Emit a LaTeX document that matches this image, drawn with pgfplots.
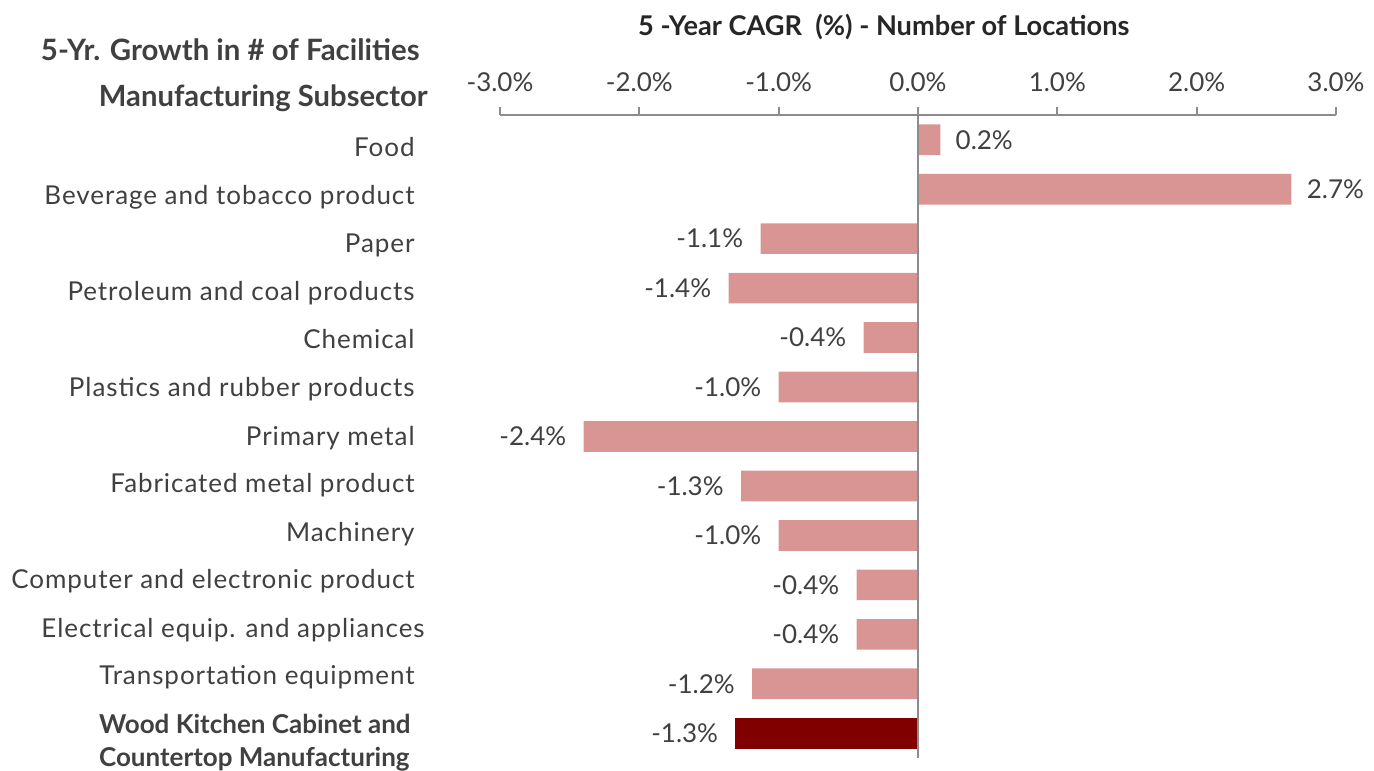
\documentclass[border=0pt]{standalone}
\usepackage{fontspec}
\setmainfont{Lato}
\newfontfamily\spaced[LetterSpace=3.6]{Lato}
\usepackage{pgfplots}
\pgfplotsset{compat=1.18}
\definecolor{barpink}{HTML}{D99594}
\definecolor{bardark}{HTML}{800000}
\definecolor{txt}{HTML}{404040}
\definecolor{ttl}{HTML}{262626}
\definecolor{axgray}{HTML}{8C8C8C}
\begin{document}
\begin{tikzpicture}
\begin{axis}[
  scale only axis, width=418pt, height=321.5pt,
  xmin=-3, xmax=3, ymin=-0.5, ymax=12.5,
  axis x line=top, axis y line=left,
  y axis line style={draw=none},
  x axis line style={draw=axgray, line width=1pt, -},
  xtick={-3,-2,-1,0,1,2,3},
  xticklabels={-3.0\%,-2.0\%,-1.0\%,0.0\%,1.0\%,2.0\%,3.0\%},
  tick align=outside,
  major tick length=4pt,
  xtick style={draw=axgray, line width=1pt},
  ytick style={draw=none},
  ytick={0.005,0.976,1.946,2.917,3.887,4.858,5.828,6.799,7.769,8.740,9.710,10.681,11.651},
  yticklabels={{\rmfamily\bfseries\begin{tabular}[t]{@{}l@{\hspace{2pt}}}Wood Kitchen Cabinet and\\[1.5pt]Countertop Manufacturing\end{tabular}},
    Transportation equipment, Electrical equip. and appliances\hspace*{-5pt}, Computer and electronic product,
    Machinery, Fabricated metal product, Primary metal, Plastics and rubber products, Chemical,
    Petroleum and coal products, Paper, Beverage and tobacco product, Food},
  xticklabel style={font=\fontsize{13}{15}\selectfont, text=txt, inner sep=0pt, anchor=south, yshift=7.5pt},
  yticklabel style={font=\spaced\fontsize{13}{15}\selectfont, text=txt, inner sep=0pt, anchor=base east, xshift=-38.5pt},
  clip=false,
]
\addplot[xbar, bar width=0.62, bar shift=0pt, fill=barpink, draw=none,
  nodes near coords, point meta=explicit symbolic,
  every node near coord/.append style={anchor=west, inner sep=0pt, xshift=7.5pt, font=\fontsize{13}{15}\selectfont, text=txt}]
  coordinates {(0.16,12) [0.2\%] (2.68,11) [2.7\%]};
\addplot[xbar, bar width=0.62, bar shift=0pt, fill=barpink, draw=none,
  nodes near coords, point meta=explicit symbolic,
  every node near coord/.append style={anchor=east, inner sep=0pt, xshift=-8.5pt, font=\fontsize{13}{15}\selectfont, text=txt}]
  coordinates {(-1.13,10) [-1.1\%] (-1.36,9) [-1.4\%] (-0.39,8) [-0.4\%] (-1.00,7) [-1.0\%]
    (-2.40,6) [-2.4\%] (-1.27,5) [-1.3\%] (-1.00,4) [-1.0\%] (-0.44,3) [-0.4\%]
    (-0.44,2) [-0.4\%] (-1.19,1) [-1.2\%]};
\addplot[xbar, bar width=0.62, bar shift=0pt, fill=bardark, draw=none,
  nodes near coords, point meta=explicit symbolic,
  every node near coord/.append style={anchor=east, inner sep=0pt, xshift=-8.5pt, font=\fontsize{13}{15}\selectfont, text=txt}]
  coordinates {(-1.31,0) [-1.3\%]};
\addplot[sharp plot, draw=axgray, line width=1pt, mark=none] coordinates {(0,12.5) (0,-0.5)};
\node[anchor=east, inner sep=0pt, font=\bfseries\fontsize{14.7}{17}\selectfont, text=txt] at (axis description cs:-0.0957,1.101) {5-Yr. Growth in \# of Facilities};
\node[anchor=east, inner sep=0pt, font=\bfseries\fontsize{14.6}{17}\selectfont, text=txt] at (axis description cs:-0.0861,1.026) {Manufacturing Subsector};
\node[inner sep=0pt, font=\bfseries\fontsize{13.6}{16}\selectfont, text=ttl] at (axis description cs:0.459,1.137) {5 -Year CAGR\ \ (\%) - Number of Locations};
\end{axis}
\pgfresetboundingbox
\path[use as bounding box] ([shift={(-250pt,57.5pt)}]current axis.north west) rectangle ([shift={(437pt,-327.5pt)}]current axis.north west);
\end{tikzpicture}
\end{document}
